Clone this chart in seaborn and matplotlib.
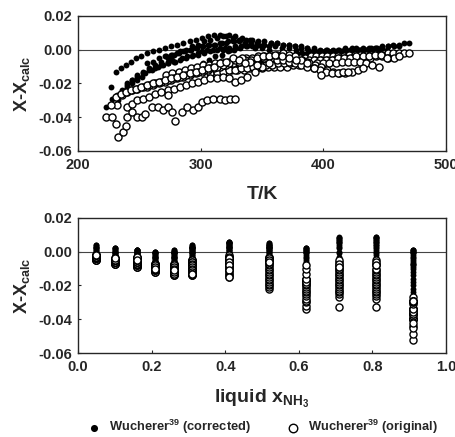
import pandas as pd
import matplotlib
matplotlib.use('Agg')
import matplotlib.pyplot as plt
import seaborn as sns
from matplotlib.ticker import FormatStrFormatter

# liquid ammonia mole fractions of the Wucherer data sets
compositions = [0.05, 0.10, 0.16, 0.21, 0.26, 0.31, 0.41, 0.52, 0.62, 0.71, 0.81, 0.91]

# temperatures (K) measured for each composition
temps = [
    [372, 376, 381, 385, 390, 394, 399, 403, 408, 412, 417, 421, 426, 430, 435, 439, 444, 448, 453, 457, 462, 466, 470],
    [358, 363, 368, 373, 378, 383, 388, 393, 398, 403, 408, 413, 418, 423, 428, 433, 438, 443, 448, 453, 458, 462],
    [342, 347, 352, 357, 362, 367, 372, 377, 382, 387, 392, 397, 402, 407, 412, 417, 422, 427, 432, 437, 442, 447, 452],
    [325, 330, 335, 340, 345, 350, 355, 360, 365, 370, 375, 380, 385, 390, 395, 400, 405, 410, 415, 420, 425, 430, 435,
     440, 445],
    [308, 313, 318, 323, 328, 333, 338, 343, 348, 353, 358, 363, 368, 373, 378, 383, 388, 393, 398, 403, 408, 413, 418,
     423, 428, 432],
    [292, 297, 302, 307, 312, 317, 322, 327, 332, 337, 342, 347, 352, 357, 362, 367, 372, 377, 382, 387, 392, 397, 402,
     407, 412, 416, 420],
    [272, 277, 282, 287, 292, 297, 302, 307, 312, 317, 322, 327, 332, 337, 342, 347, 352, 357, 362, 367, 372, 377, 382,
     387, 392, 398],
    [256, 261, 266, 271, 276, 281, 286, 291, 296, 301, 306, 311, 316, 321, 326, 331, 336, 341, 346, 351, 356, 361, 366,
     372, 378],
    [240, 244, 248, 253, 258, 263, 268, 273, 278, 283, 288, 293, 298, 303, 308, 313, 318, 323, 328, 333, 338, 344, 350,
     356],
    [232, 236, 240, 244, 248, 253, 258, 263, 268, 273, 278, 283, 288, 293, 298, 303, 308, 313, 318, 323, 328, 334, 340,
     346],
    [227, 231, 235, 239, 243, 247, 251, 256, 261, 266, 271, 276, 281, 286, 291, 296, 301, 306, 311, 316, 321, 326, 331,
     336],
    [223, 228, 231, 233, 237, 239, 240, 244, 248, 252, 255, 260, 265, 269, 273, 273, 277, 279, 285, 289, 294, 298, 301,
     305, 310, 316, 320, 324, 328],
]

# x - x_calc, Wucherer (corrected)
dev_corrected = [
    [-0.005, -0.005, -0.004, -0.004, -0.004, -0.003, -0.003, -0.003, -0.002, -0.002, -0.001, -0.001, -0.001, 0.000,
     0.000, 0.001, 0.001, 0.002, 0.002, 0.003, 0.003, 0.004, 0.004],
    [-0.006, -0.006, -0.005, -0.005, -0.004, -0.004, -0.004, -0.003, -0.003, -0.002, -0.002, -0.002, -0.001, -0.001,
     0.000, 0.000, 0.000, 0.001, 0.001, 0.002, 0.002, 0.002],
    [-0.005, -0.005, -0.004, -0.004, -0.004, -0.003, -0.003, -0.003, -0.002, -0.002, -0.002, -0.001, -0.001, -0.001,
     0.000, 0.000, 0.000, 0.001, 0.001, 0.001, 0.001, 0.001, 0.000],
    [-0.010, -0.009, -0.009, -0.008, -0.008, -0.007, -0.007, -0.006, -0.006, -0.006, -0.005, -0.005, -0.004, -0.004,
     -0.003, -0.003, -0.003, -0.002, -0.002, -0.001, -0.001, 0.000, 0.000, 0.000, -0.001],
    [-0.010, -0.009, -0.008, -0.008, -0.007, -0.006, -0.006, -0.005, -0.005, -0.004, -0.004, -0.003, -0.003, -0.003,
     -0.002, -0.002, -0.001, -0.001, -0.001, 0.000, 0.000, 0.000, 0.001, 0.001, 0.000, 0.000],
    [-0.012, -0.010, -0.008, -0.006, -0.004, -0.003, -0.001, 0.000, 0.001, 0.002, 0.002, 0.003, 0.003, 0.004, 0.004,
     0.003, 0.003, 0.002, 0.002, 0.001, 0.001, 0.000, 0.000, -0.001, -0.002, -0.002, -0.003],
    [-0.004, -0.003, -0.002, -0.001, 0.000, 0.001, 0.002, 0.003, 0.003, 0.004, 0.005, 0.005, 0.006, 0.006, 0.006,
     0.005, 0.005, 0.004, 0.004, 0.003, 0.003, 0.002, 0.001, 0.001, 0.000, -0.001],
    [-0.008, -0.007, -0.005, -0.004, -0.003, -0.002, -0.001, 0.000, 0.001, 0.002, 0.003, 0.003, 0.004, 0.004, 0.005,
     0.005, 0.004, 0.004, 0.003, 0.003, 0.002, 0.002, 0.001, 0.001, 0.000],
    [-0.020, -0.018, -0.016, -0.014, -0.012, -0.011, -0.009, -0.008, -0.007, -0.006, -0.005, -0.004, -0.003, -0.002,
     -0.001, 0.000, 0.000, 0.001, 0.002, 0.002, 0.002, 0.001, 0.001, 0.000],
    [-0.027, -0.024, -0.021, -0.018, -0.015, -0.013, -0.011, -0.009, -0.007, -0.005, -0.003, -0.001, 0.000, 0.002,
     0.003, 0.005, 0.006, 0.007, 0.008, 0.009, 0.008, 0.007, 0.006, 0.004],
    [-0.022, -0.013, -0.011, -0.009, -0.007, -0.005, -0.004, -0.002, -0.001, 0.000, 0.001, 0.002, 0.003, 0.004,
     0.005, 0.006, 0.007, 0.008, 0.009, 0.009, 0.008, 0.007, 0.006, 0.004],
    [-0.034, -0.029, -0.028, -0.030, -0.027, -0.024, -0.022, -0.020, -0.018, -0.016, -0.014, -0.012, -0.010, -0.009,
     -0.007, -0.008, -0.006, -0.007, -0.005, -0.004, -0.003, -0.002, -0.001, 0.000, 0.000, 0.001, 0.001, 0.000, 0.001],
]

# x - x_calc, Wucherer (original)
dev_original = [
    [-0.005, -0.005, -0.005, -0.005, -0.004, -0.004, -0.004, -0.004, -0.004, -0.004, -0.004, -0.003, -0.003, -0.003,
     -0.003, -0.003, -0.003, -0.003, -0.002, -0.002, -0.002, -0.002, -0.002],
    [-0.007, -0.007, -0.007, -0.007, -0.006, -0.006, -0.006, -0.006, -0.006, -0.006, -0.006, -0.005, -0.005, -0.005,
     -0.005, -0.005, -0.005, -0.004, -0.004, -0.005, -0.005, -0.004],
    [-0.009, -0.009, -0.009, -0.008, -0.008, -0.008, -0.007, -0.007, -0.007, -0.007, -0.006, -0.006, -0.006, -0.006,
     -0.005, -0.005, -0.005, -0.004, -0.004, -0.004, -0.003, -0.003, -0.005],
    [-0.012, -0.012, -0.012, -0.011, -0.011, -0.011, -0.010, -0.010, -0.010, -0.010, -0.009, -0.009, -0.009, -0.009,
     -0.008, -0.008, -0.008, -0.008, -0.007, -0.007, -0.007, -0.007, -0.008, -0.009, -0.010],
    [-0.014, -0.013, -0.013, -0.012, -0.012, -0.011, -0.011, -0.010, -0.010, -0.009, -0.009, -0.008, -0.008, -0.008,
     -0.007, -0.007, -0.008, -0.009, -0.010, -0.012, -0.013, -0.014, -0.014, -0.013, -0.012, -0.011],
    [-0.014, -0.013, -0.012, -0.011, -0.010, -0.009, -0.008, -0.007, -0.007, -0.006, -0.006, -0.005, -0.005, -0.005,
     -0.006, -0.006, -0.007, -0.008, -0.009, -0.010, -0.011, -0.012, -0.013, -0.014, -0.014, -0.013, -0.013],
    [-0.015, -0.014, -0.013, -0.012, -0.011, -0.010, -0.009, -0.009, -0.008, -0.007, -0.007, -0.006, -0.006, -0.005,
     -0.005, -0.004, -0.004, -0.003, -0.003, -0.002, -0.003, -0.004, -0.006, -0.008, -0.011, -0.015],
    [-0.022, -0.021, -0.020, -0.019, -0.018, -0.017, -0.016, -0.015, -0.014, -0.013, -0.012, -0.011, -0.010, -0.009,
     -0.008, -0.007, -0.006, -0.006, -0.005, -0.004, -0.004, -0.003, -0.004, -0.005, -0.006],
    [-0.034, -0.032, -0.030, -0.029, -0.028, -0.026, -0.025, -0.024, -0.023, -0.022, -0.021, -0.020, -0.019, -0.018,
     -0.017, -0.017, -0.016, -0.017, -0.019, -0.018, -0.016, -0.013, -0.010, -0.008],
    [-0.033, -0.027, -0.025, -0.024, -0.023, -0.022, -0.021, -0.020, -0.019, -0.018, -0.017, -0.016, -0.015, -0.014,
     -0.013, -0.012, -0.011, -0.010, -0.009, -0.008, -0.006, -0.005, -0.007, -0.009],
    [-0.033, -0.028, -0.026, -0.025, -0.024, -0.023, -0.022, -0.021, -0.020, -0.019, -0.018, -0.017, -0.016, -0.015,
     -0.014, -0.013, -0.012, -0.011, -0.010, -0.008, -0.007, -0.005, -0.006, -0.008],
    [-0.040, -0.040, -0.044, -0.052, -0.049, -0.045, -0.040, -0.037, -0.040, -0.040, -0.038, -0.034, -0.034, -0.036,
     -0.027, -0.034, -0.037, -0.042, -0.037, -0.034, -0.036, -0.034, -0.031, -0.030, -0.029, -0.029, -0.030, -0.029,
     -0.029],
]

rows = []
for x, ts, dc, do in zip(compositions, temps, dev_corrected, dev_original):
    assert len(ts) == len(dc) == len(do), x
    for t, c, o in zip(ts, dc, do):
        rows.append({'x': x, 'T': t, 'corrected': c, 'original': o})
df = pd.DataFrame(rows)

sns.set_style('ticks')
plt.rcParams['font.family'] = ['Liberation Sans', 'DejaVu Sans']
plt.rcParams['font.weight'] = 'bold'
plt.rcParams['axes.labelweight'] = 'bold'
plt.rcParams['mathtext.fontset'] = 'custom'
plt.rcParams['mathtext.bf'] = 'Liberation Sans:bold'
plt.rcParams['mathtext.rm'] = 'Liberation Sans:bold'
plt.rcParams['mathtext.default'] = 'bf'

fig = plt.figure(figsize=(4.55, 4.37), dpi=100)
ax1 = fig.add_axes([0.1714, 0.6545, 0.8088, 0.309])
ax2 = fig.add_axes([0.1714, 0.1922, 0.8088, 0.309])

filled_kw = dict(color='black', s=18, linewidth=0, marker='o')
open_kw = dict(facecolor='white', edgecolor='black', s=26, linewidth=1.0, marker='o')

for ax, xcol in [(ax1, 'T'), (ax2, 'x')]:
    ax.axhline(0, color='#444444', lw=0.8, zorder=1)
    sns.scatterplot(data=df, x=xcol, y='corrected', ax=ax, zorder=2,
                    label='Wucherer$^{39}$ (corrected)', legend=False, **filled_kw)
    sns.scatterplot(data=df, x=xcol, y='original', ax=ax, zorder=3,
                    label='Wucherer$^{39}$ (original)', legend=False, **open_kw)
    ax.set_ylim(-0.06, 0.02)
    ax.set_yticks([-0.06, -0.04, -0.02, 0.00, 0.02])
    ax.yaxis.set_major_formatter(FormatStrFormatter('%.2f'))
    ax.set_ylabel('X-X$_{calc}$', fontsize=13, labelpad=5)
    ax.tick_params(direction='in', length=2, width=0.8, labelsize=10.5)
    ax.tick_params(axis='x', pad=5)
    ax.tick_params(axis='y', pad=4)
    for sp in ax.spines.values():
        sp.set_linewidth(1.0)
    for lab in ax.get_xticklabels() + ax.get_yticklabels():
        lab.set_fontweight('bold')

ax1.set_xlim(200, 500)
ax1.set_xticks([200, 300, 400, 500])
ax1.set_xlabel('T/K', fontsize=14, labelpad=10)

ax2.set_xlim(0.0, 1.0)
ax2.set_xticks([0.0, 0.2, 0.4, 0.6, 0.8, 1.0])
ax2.xaxis.set_major_formatter(FormatStrFormatter('%.1f'))
ax2.set_xlabel('liquid x$_{NH_3}$', fontsize=14, labelpad=10)

handles, labels = ax2.get_legend_handles_labels()
fig.legend(handles, labels, loc='lower center', bbox_to_anchor=(0.57, -0.025),
           ncol=2, frameon=False, fontsize=9.3, handletextpad=0.2,
           columnspacing=2.2, markerscale=1.2)

fig.savefig('out.png', dpi=100)
